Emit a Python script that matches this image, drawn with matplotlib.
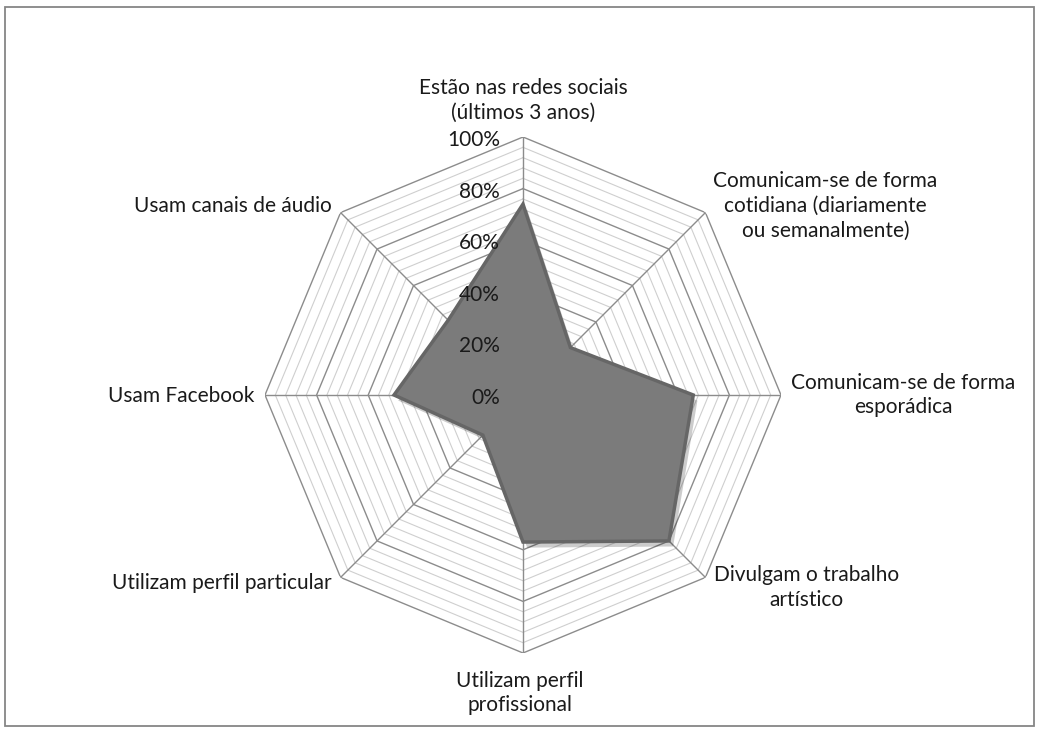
# Radar de uso das redes sociais (percentuais por categoria)
import matplotlib.pyplot as plt
import matplotlib.patheffects as pe
from matplotlib.patches import Rectangle
import numpy as np

categorias = [
    "Estão nas redes sociais\n(últimos 3 anos)",
    "Comunicam-se de forma\ncotidiana (diariamente\nou semanalmente)",
    "Comunicam-se de forma\nesporádica",
    "Divulgam o trabalho\nartístico",
    "Utilizam perfil\nprofissional",
    "Utilizam perfil particular",
    "Usam Facebook",
    "Usam canais de áudio",
]
valores = [74, 26, 66, 80, 57, 22, 50, 41]
ticks_maiores = [0, 20, 40, 60, 80, 100]
rotulos_ticks = ["0%", "20%", "40%", "60%", "80%", "100%"]
passo_menor = 4

# deslocamento (pixels) e alinhamento de cada rótulo em relação ao vértice externo
layout_rotulos = [
    ((0, 14), "center", "bottom"),
    ((120, 7), "center", "center"),
    ((122, 0), "center", "center"),
    ((101, -10), "center", "center"),
    ((-3, -40), "center", "center"),
    ((-9, -6), "right", "center"),
    ((-11, -1), "right", "center"),
    ((-9, 7), "right", "center"),
]

plt.rcParams["font.family"] = ["Lato", "DejaVu Sans"]

W, H = 1039, 732
fig = plt.figure(figsize=(W / 100, H / 100), dpi=100)
fig.patch.set_facecolor("white")
fig.patches.append(Rectangle((5 / W, 1 - 726 / H), 1029 / W, 719 / H, transform=fig.transFigure,
                             fill=False, edgecolor="#868686", linewidth=1.3))

cx, cy, raio = 523, 395, 258
ax = fig.add_axes([(cx - raio) / W, (H - cy - raio) / H, 2 * raio / W, 2 * raio / H], projection="polar")
ax.set_theta_offset(np.pi / 2)
ax.set_theta_direction(-1)
ax.set_ylim(0, 100)
ax.grid(False)
ax.set_xticks([])
ax.set_yticks([])
ax.spines["polar"].set_visible(False)
ax.patch.set_alpha(0)

n = len(categorias)
angulos = np.linspace(0, 2 * np.pi, n, endpoint=False)
ang_fechado = np.append(angulos, angulos[0])

# grade octogonal: linhas menores a cada 4%, maiores a cada 20%
for r in range(passo_menor, ticks_maiores[-1] + 1, passo_menor):
    maior = r in ticks_maiores
    ax.plot(ang_fechado, [r] * (n + 1), color="#8c8c8c" if maior else "#cfcfcf",
            linewidth=1.0 if maior else 0.8, zorder=1)
for a in angulos:
    ax.plot([a, a], [0, ticks_maiores[-1]], color="#8c8c8c", linewidth=1.0, zorder=1)

# série
vals = np.append(valores, valores[0])
area = ax.fill(ang_fechado, vals, facecolor="#7b7b7b", edgecolor="#666666", linewidth=2.5, zorder=3)[0]
area.set_path_effects([pe.SimplePatchShadow(offset=(3, -4), shadow_rgbFace="black", alpha=0.2), pe.Normal()])

# rótulos do eixo radial
for t, txt in zip(ticks_maiores, rotulos_ticks):
    ax.annotate(txt, xy=(0, t), xytext=(-23, -3), textcoords="offset pixels",
                ha="right", va="center", fontsize=15, color="#1a1a1a", zorder=5)

# rótulos das categorias
for a, txt, (off, ha, va) in zip(angulos, categorias, layout_rotulos):
    ax.annotate(txt, xy=(a, ticks_maiores[-1]), xytext=off, textcoords="offset pixels",
                ha=ha, va=va, multialignment="center", fontsize=15, color="#1a1a1a",
                linespacing=1.3, annotation_clip=False)

fig.savefig("out.png", dpi=100, facecolor="white")
